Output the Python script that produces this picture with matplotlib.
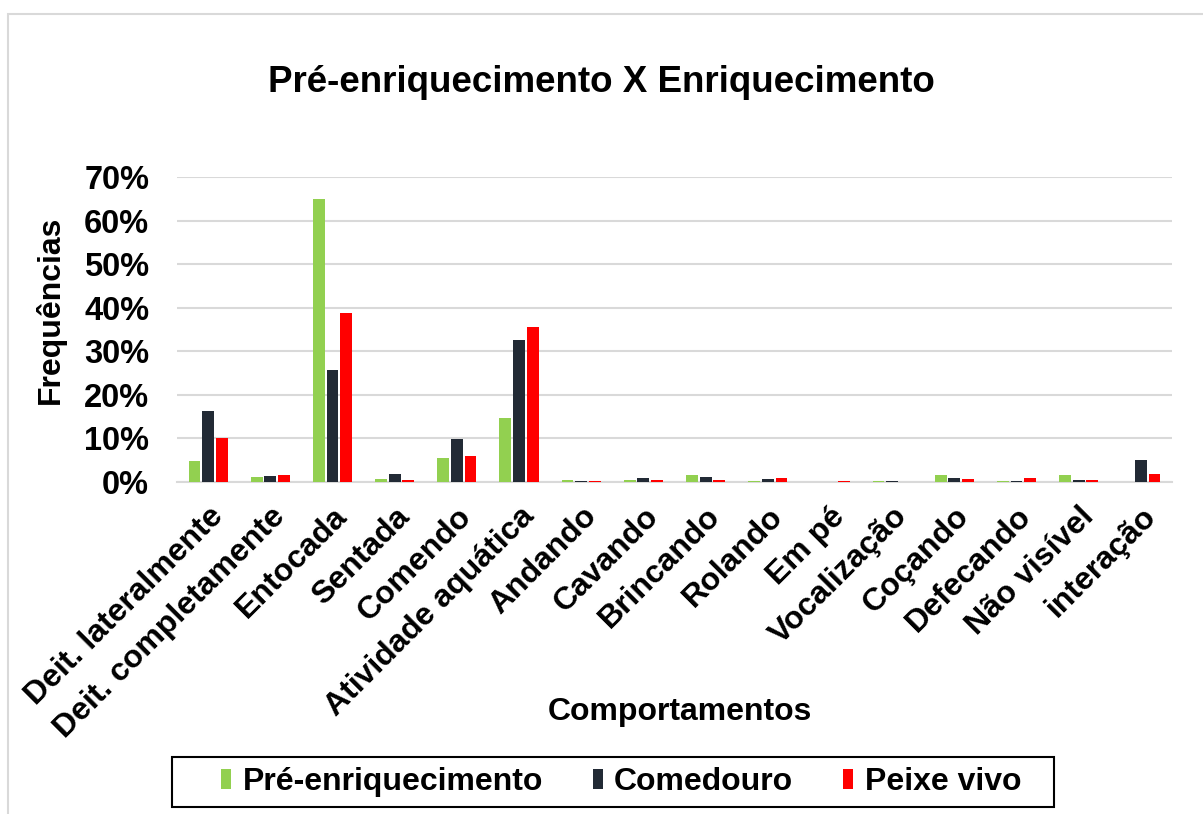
import matplotlib
matplotlib.use("Agg")
import matplotlib.pyplot as plt
from matplotlib.patches import Rectangle
import numpy as np

plt.rcParams['font.family'] = ['Liberation Sans', 'DejaVu Sans']
plt.rcParams['font.weight'] = 'bold'

categories = ["Deit. lateralmente", "Deit. completamente", "Entocada", "Sentada",
              "Comendo", "Atividade aquática", "Andando", "Cavando", "Brincando",
              "Rolando", "Em pé", "Vocalização", "Coçando", "Defecando",
              "Não visível", "interação"]
series_names = ["Pré-enriquecimento", "Comedouro", "Peixe vivo"]
pre_enriquecimento = [4.8, 1.2, 65.0, 0.7, 5.6, 14.7, 0.5, 0.4, 1.6, 0.2, 0.0, 0.3, 1.5, 0.3, 1.5, 0.0]
comedouro = [16.4, 1.3, 25.7, 1.9, 9.9, 32.6, 0.3, 1.0, 1.2, 0.8, 0.1, 0.3, 1.0, 0.3, 0.5, 5.1]
peixe_vivo = [10.0, 1.55, 38.8, 0.5, 6.0, 35.5, 0.2, 0.4, 0.5, 0.85, 0.2, 0.1, 0.6, 0.85, 0.35, 1.8]
colors = ["#92d050", "#222a35", "#ff0000"]
yticks = [0, 10, 20, 30, 40, 50, 60, 70]

W, H = 1203, 814
fig = plt.figure(figsize=(W / 100, H / 100), dpi=100)
fig.patch.set_facecolor("white")

# light frame around the chart area
fig.add_artist(Rectangle((8 / W, -0.1), 1.2, 1 - 13.5 / H + 0.1, transform=fig.transFigure,
                         fill=False, edgecolor="#d9d9d9", linewidth=1.5))

ax = fig.add_axes([177 / W, (H - 482) / H, (1172 - 177) / W, (482 - 177) / H])

x = np.arange(len(categories))
step = 0.22
width = 0.19
for k, (vals, name, c) in enumerate(zip([pre_enriquecimento, comedouro, peixe_vivo], series_names, colors)):
    ax.bar(x + (k - 1) * step, np.array(vals) / 100, width=width, color=c, label=name, zorder=3)

ax.set_xlim(-0.5, len(categories) - 0.5)
ax.set_ylim(0, 0.70)
ax.set_yticks([v / 100 for v in yticks])
ax.set_yticklabels([f"{v}%" for v in yticks], fontsize=23.5, fontweight="bold")
ax.yaxis.grid(True, color="#d9d9d9", linewidth=1.5, zorder=0)
ax.tick_params(axis="y", length=0, pad=20)
ax.tick_params(axis="x", length=0, pad=14)
for s in ["left", "right", "top"]:
    ax.spines[s].set_visible(False)
ax.spines["bottom"].set_color("#d9d9d9")
ax.spines["bottom"].set_linewidth(1.5)

ax.set_xticks(x)
ax.set_xticklabels(categories, rotation=45, ha="right", rotation_mode="anchor",
                   fontsize=23, fontweight="bold")

ax.set_ylabel("Frequências", fontsize=23, fontweight="bold")
ax.yaxis.set_label_coords(-0.112, 0.564)
ax.set_xlabel("Comportamentos", fontsize=23, fontweight="bold")
ax.xaxis.set_label_coords(0.505, -0.705)

fig.text(0.5, 1 - 83 / H, "Pré-enriquecimento X Enriquecimento", ha="center", va="center",
         fontsize=26.5, fontweight="bold")

# legend box drawn separately so its padding can be wider than the entries need
fig.add_artist(Rectangle((172 / W, 1 - 807 / H), (1054 - 172) / W, 50 / H,
                         transform=fig.transFigure, fill=False, edgecolor="black",
                         linewidth=1.5, zorder=5))
leg = fig.legend(loc="center", bbox_to_anchor=(621 / W, 1 - 782 / H), ncol=3,
                 fontsize=23, frameon=False,
                 handlelength=0.33, handleheight=0.58, handletextpad=0.35,
                 columnspacing=1.55, borderpad=0.2)
for t in leg.get_texts():
    t.set_fontweight("bold")

fig.savefig("out.png", dpi=100, facecolor="white")
